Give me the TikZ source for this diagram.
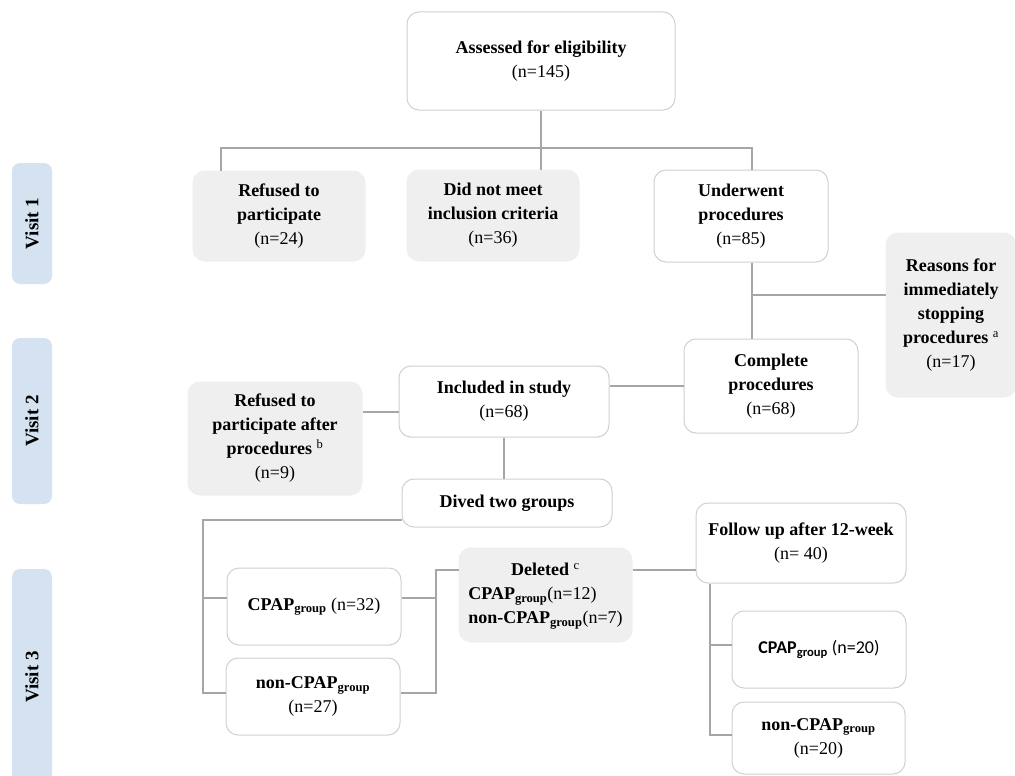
\documentclass[tikz,border=0pt]{standalone}
\usepackage{fontspec}
\setmainfont{Liberation Serif}
\newfontfamily\calibrifont{Carlito}
\definecolor{boxline}{HTML}{D0D0D0}
\definecolor{greyfill}{HTML}{EFEFEF}
\definecolor{visitfill}{HTML}{D5E2F2}
\definecolor{connline}{HTML}{A6A6A6}
\begin{document}
\begin{tikzpicture}[x=1pt,y=-1pt,
  base/.style={rounded corners=12pt, align=center, inner sep=0pt, line width=1pt,
    font=\fontsize{18}{24}\selectfont},
  wbox/.style={base, draw=boxline, fill=white},
  gbox/.style={base, draw=greyfill, fill=greyfill},
  visit/.style={rounded corners=8pt, fill=visitfill, minimum width=40pt, inner sep=0pt,
    font=\fontsize{19}{24}\selectfont\bfseries},
  conn/.style={draw=connline, line width=1.2pt}]
\useasboundingbox (0,0) rectangle (1015,776);

% visit bars
\node[visit, minimum height=121pt] (v1) at (32,223.5) {\rotatebox{90}{Visit 1}};
\node[visit, minimum height=166pt] (v2) at (32,421) {\rotatebox{90}{Visit 2}};
\node[visit, minimum height=216pt] (v3) at (32,677) {\rotatebox{90}{Visit 3}};

% boxes
\node[wbox, minimum width=268pt, minimum height=98pt] (ass) at (541,61)
  {\textbf{Assessed for eligibility}\\(n=145)};
\node[gbox, minimum width=172pt, minimum height=90pt] (ref1) at (279,216)
  {\textbf{Refused to}\\\textbf{participate}\\(n=24)};
\node[gbox, minimum width=172pt, minimum height=91pt] (dnm) at (493,215.5)
  {\textbf{Did not meet}\\\textbf{inclusion criteria}\\(n=36)};
\node[wbox, minimum width=174pt, minimum height=92pt] (und) at (741,216)
  {\textbf{Underwent}\\\textbf{procedures}\\(n=85)};
\node[gbox, minimum width=130pt, minimum height=164pt] (rea) at (951,315)
  {\textbf{Reasons for}\\\textbf{immediately}\\\textbf{stopping}\\\textbf{procedures}~\textsuperscript{a}\\(n=17)};
\node[wbox, minimum width=174pt, minimum height=94pt] (com) at (771,386)
  {\textbf{Complete}\\\textbf{procedures}\\(n=68)};
\node[wbox, minimum width=210pt, minimum height=71pt] (inc) at (504,401.5)
  {\textbf{Included in study}\\(n=68)};
\node[gbox, minimum width=174pt, minimum height=113pt] (ref2) at (275,438.5)
  {\textbf{Refused to}\\\textbf{participate after}\\\textbf{procedures}~\textsuperscript{b}\\(n=9)};
\node[wbox, minimum width=210pt, minimum height=48pt] (div) at (507,503)
  {\textbf{Dived two groups}};
\node[wbox, minimum width=174pt, minimum height=77pt] (cp1) at (314,606.5)
  {\textbf{CPAP\textsubscript{group}} (n=32)};
\node[wbox, minimum width=174pt, minimum height=77pt] (nc1) at (313,696.5)
  {\textbf{non-CPAP\textsubscript{group}}\\(n=27)};
\node[gbox, minimum width=173pt, minimum height=94pt] (del) at (545.5,595)
  {\begin{tabular}{@{}l@{}}\multicolumn{1}{@{}c@{}}{\textbf{Deleted}~\textsuperscript{c}}\\
   \textbf{CPAP\textsubscript{group}}(n=12)\\
   \textbf{non-CPAP\textsubscript{group}}(n=7)\end{tabular}};
\node[wbox, minimum width=210pt, minimum height=80pt] (fol) at (801,543)
  {\textbf{Follow up after 12-week}\\(n=~40)};
\node[wbox, minimum width=174pt, minimum height=77pt] (cp2) at (819,649.5)
  {{\calibrifont\textbf{CPAP\textsubscript{group}} (n=20)}};
\node[wbox, minimum width=173pt, minimum height=72pt] (nc2) at (818.5,738)
  {\textbf{non-CPAP\textsubscript{group}}\\(n=20)};

% junction coordinates
\coordinate (hL) at (221,148);
\coordinate (hR) at (752,148);
\coordinate (rj) at (752,295);
\coordinate (r2) at (0,412);
\coordinate (dL) at (203,520);
\coordinate (yc1) at (0,598);
\coordinate (yn1) at (0,693);
\coordinate (dR) at (436,570);
\coordinate (fL) at (710,0);
\coordinate (yc2) at (0,645);
\coordinate (yn2) at (0,735);

% connectors
\draw[conn] (ass.south) -- (ass.south |- dnm.north);
\draw[conn] (hL |- ref1.north) -- (hL) -- (hR) -- (hR |- und.north);
\draw[conn] (hR |- und.south) -- (hR |- com.north);
\draw[conn] (rj) -- (rj -| rea.west);
\draw[conn] (inc.east |- com.west) -- (com.west);
\draw[conn] (ref2.east |- r2) -- (inc.west |- r2);
\draw[conn] (inc.south) -- (inc.south |- div.north);
\draw[conn] (div.west |- dL) -- (dL) -- (dL |- yn1) -- (nc1.west |- yn1);
\draw[conn] (dL |- yc1) -- (cp1.west |- yc1);
\draw[conn] (cp1.east |- yc1) -- (dR |- yc1);
\draw[conn] (nc1.east |- yn1) -- (dR |- yn1) -- (dR) -- (dR -| del.west);
\draw[conn] (del.east |- dR) -- (fol.west |- dR);
\draw[conn] (fL |- fol.south) -- (fL |- yn2) -- (nc2.west |- yn2);
\draw[conn] (fL |- yc2) -- (cp2.west |- yc2);
\end{tikzpicture}
\end{document}
